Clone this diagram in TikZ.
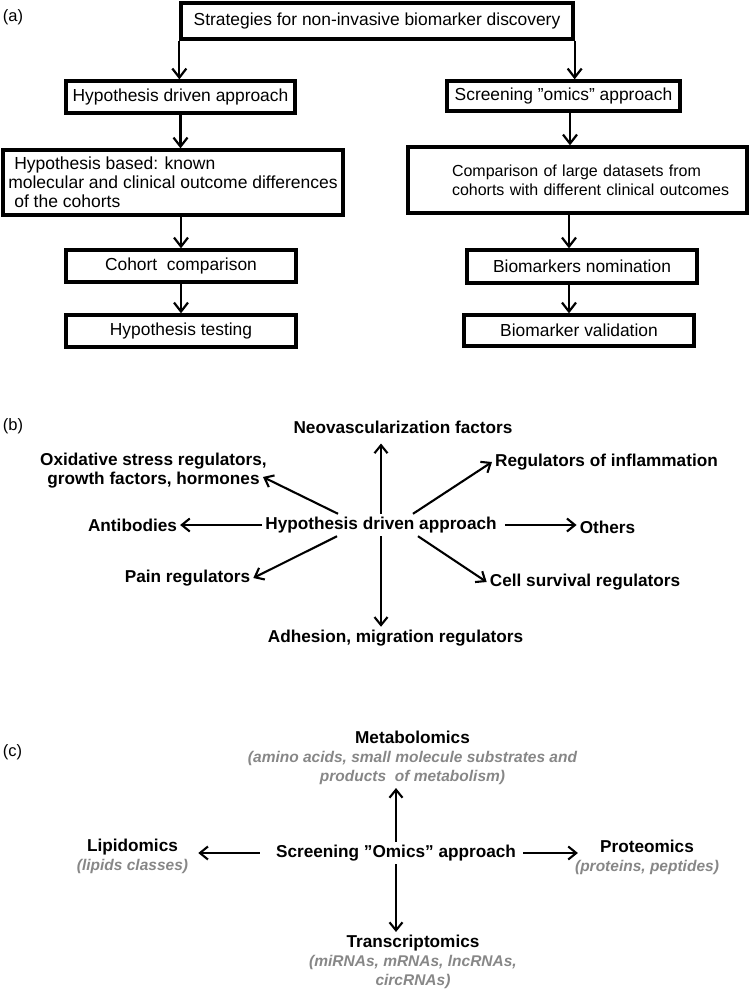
\documentclass[tikz,border=0pt]{standalone}
\usepackage{fontspec}
\setmainfont{Liberation Sans}
\usetikzlibrary{arrows.meta}
\definecolor{grtxt}{RGB}{135,135,135}
\newcommand{\grit}{\color{grtxt}\itshape\fontsize{15.5}{19}\selectfont}
\begin{document}
\begin{tikzpicture}[x=1pt,y=-1pt,
  box/.style={draw, line width=3.3pt, inner sep=0pt, font=\fontsize{17.4}{19}\selectfont},
  arr/.style={line width=2.2pt, -{Straight Barb[length=9pt,width=14pt]}},
  arrb/.style={line width=2.1pt, -{Straight Barb[length=8pt,width=13pt]}},
  plbl/.style={font=\fontsize{16.5}{19}\selectfont, inner sep=0pt},
  bt/.style={font=\bfseries\fontsize{17.2}{19}\selectfont, inner sep=3pt, align=center}
]
\useasboundingbox (0,0) rectangle (750,992);

% ---------- (a)
\node[plbl] (la) at (13,17) {(a)};
\node[box, minimum width=392pt, minimum height=36pt] (top) at (377,21) {Strategies for non-invasive biomarker discovery};
\node[box, minimum width=229pt, minimum height=32pt] (hyp) at (180.5,97) {Hypothesis driven approach};
\node[box, minimum width=233pt, minimum height=30pt] (scra) at (563.5,96) {Screening ''omics'' approach};
\node[box, minimum width=340pt, minimum height=65pt, align=left, font=\fontsize{17.5}{19}\selectfont] (hb) at (173,182.5)
  {\hspace*{6pt}Hypothesis based: known\\molecular and clinical outcome differences\\\hspace*{6pt}of the cohorts};
\node[box, minimum width=339pt, minimum height=66pt, align=left, text width=251pt, inner xsep=44pt, font=\fontsize{16}{19}\selectfont] (cmp) at (577.5,180)
  {\mbox{Comparison of large datasets from}\\\mbox{cohorts with different clinical outcomes}};
\node[box, minimum width=230pt, minimum height=32pt] (coh) at (181,266) {Cohort\ \ comparison};
\node[box, minimum width=230pt, minimum height=32pt] (tst) at (181,331) {Hypothesis testing};
\node[box, minimum width=230pt, minimum height=33pt] (nom) at (582,266.5) {Biomarkers nomination};
\node[box, minimum width=230pt, minimum height=31pt] (val) at (579,330.5) {Biomarker validation};

\coordinate (xr) at (570,0);
\coordinate (xn) at (569,0);
\draw[arr] (top.south west) -- (top.south west |- hyp.north);
\draw[arr] (top.south east) -- (top.south east |- scra.north);
\draw[arr] (xr |- scra.south) -- (xr |- cmp.north);
\draw[arr] (hyp.south) -- (hyp.south |- hb.north);
\draw[arr] (coh.north |- hb.south) -- (coh.north);
\draw[arr] (coh.south) -- (tst.north);
\draw[arr] (xn |- cmp.south) -- (xn |- nom.north);
\draw[arr] (xn |- nom.south) -- (xn |- val.north);

% ---------- (b)
\node[plbl] (lb) at (13,426) {(b)};
\node[bt] (hda) at (381,525) {Hypothesis driven approach};
\node[bt] (neo) at (403,427) {Neovascularization factors};
\node[bt] (ox) at (153.5,470.5) {Oxidative stress regulators,\\growth factors, hormones};
\node[bt] (infl) at (606.5,462) {Regulators of inflammation};
\node[bt] (ab) at (132.5,525) {Antibodies};
\node[bt] (oth) at (607.5,527) {Others};
\node[bt] (pain) at (187.5,578) {Pain regulators};
\node[bt] (cell) at (585,582) {Cell survival regulators};
\node[bt] (adh) at (395.5,638) {Adhesion, migration regulators};

\draw[arrb] ([xshift=-43pt]hda.north) -- ([shift={(-7,6.5)}]ox.east);
\draw[arrb] (hda.west) -- (ab.east);
\draw[arrb] ([xshift=-44pt]hda.south) -- (pain.east);
\draw[arrb] ([xshift=32pt]hda.north) -- (infl.west);
\draw[arrb] ([xshift=5pt]hda.east) -- (hda.east -| oth.west);
\draw[arrb] ([xshift=37pt]hda.south) -- (cell.west);
\draw[arrb, shorten >=7pt] (hda.north) -- (hda.north |- neo.south);
\draw[arrb] (hda.south) -- (hda.south |- adh.north);

% ---------- (c)
\node[plbl] (lc) at (12.5,752) {(c)};
\node[bt] (scr) at (396,853) {Screening ''Omics'' approach};
\node[bt] (met) at (412.5,758) {Metabolomics\\{\grit (amino acids, small molecule substrates and}\\{\grit products\ \ of metabolism)}};
\node[bt] (lip) at (132.5,856.5) {Lipidomics\\{\grit (lipids classes)}};
\node[bt] (pro) at (647,857) {Proteomics\\{\grit (proteins, peptides)}};
\node[bt] (tr) at (413,962) {Transcriptomics\\{\grit (miRNAs, mRNAs, lncRNAs,}\\{\grit circRNAs)}};

\draw[arrb] (scr.north) -- (scr.north |- met.south);
\draw[arrb, shorten <=13pt, shorten >=7pt] (scr.west) -- (scr.west -| lip.east);
\draw[arrb, shorten <=4pt, shorten >=-6pt] (scr.east) -- (scr.east -| pro.west);
\draw[arrb] (scr.south) -- (scr.south |- tr.north);
\end{tikzpicture}
\end{document}
